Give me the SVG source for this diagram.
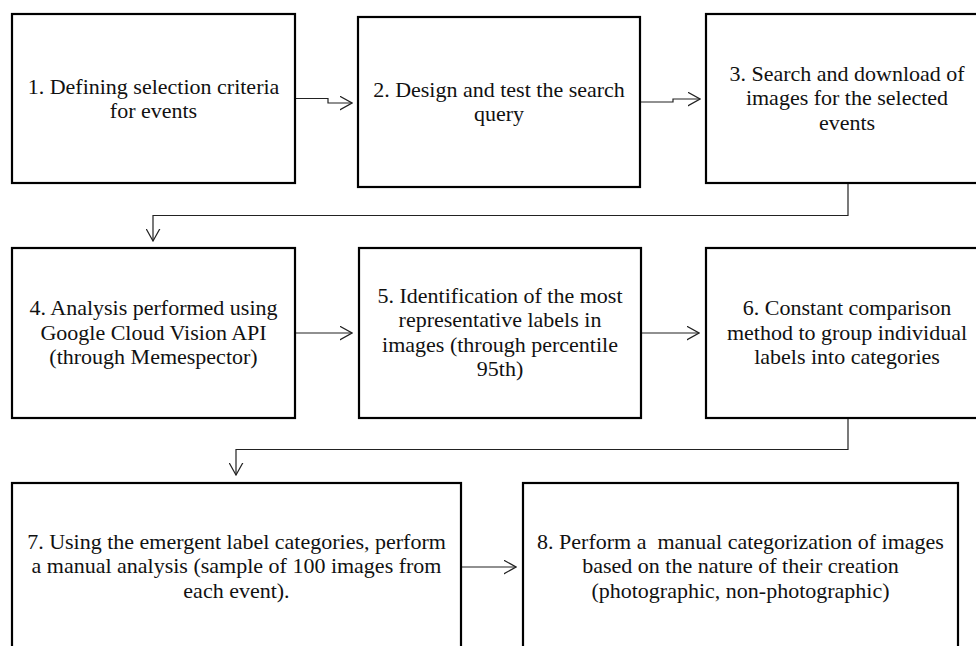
<svg xmlns="http://www.w3.org/2000/svg" width="976" height="646" viewBox="0 0 976 646">
<style>
.box{fill:#fff;stroke:#000;stroke-width:2.2}
.lbl{font-family:"Liberation Serif","Times New Roman",serif;font-size:22px;fill:#111;text-anchor:middle;white-space:pre}
.con{fill:none;stroke:#222;stroke-width:1.2}
</style>
<defs>
<marker id="arr" viewBox="0 0 13 15" refX="12.5" refY="7.5" markerWidth="13" markerHeight="15" markerUnits="userSpaceOnUse" orient="auto">
<path d="M0,0.5 L12.5,7.5 L0,14.5" fill="none" stroke="#222" stroke-width="1.2"/>
</marker>
</defs>
<rect width="976" height="646" fill="#fff"/>
<g id="connectors">
<path class="con" d="M295,98.5 H328 V103 H352" marker-end="url(#arr)"/>
<path class="con" d="M640,102 H673 V99 H700" marker-end="url(#arr)"/>
<path class="con" d="M848,183 V215.5 H153 V241" marker-end="url(#arr)"/>
<path class="con" d="M295,333 H352" marker-end="url(#arr)"/>
<path class="con" d="M641,333 H699" marker-end="url(#arr)"/>
<path class="con" d="M848,418 V449.5 H236 V475" marker-end="url(#arr)"/>
<path class="con" d="M461,567 H516" marker-end="url(#arr)"/>
</g>
<g id="n1">
<rect class="box" x="12" y="14" width="283" height="169"/>
<text class="lbl"><tspan x="153.5" y="93.5">1. Defining selection criteria</tspan><tspan x="153.5" y="118">for events</tspan></text>
</g>
<g id="n2">
<rect class="box" x="358" y="17" width="282" height="170"/>
<text class="lbl"><tspan x="499" y="96.5">2. Design and test the search</tspan><tspan x="499" y="121">query</tspan></text>
</g>
<g id="n3">
<rect class="box" x="706" y="14" width="282" height="169"/>
<text class="lbl"><tspan x="847" y="80.5">3. Search and download of</tspan><tspan x="847" y="105">images for the selected</tspan><tspan x="847" y="129.5">events</tspan></text>
</g>
<g id="n4">
<rect class="box" x="12" y="248" width="283" height="170"/>
<text class="lbl"><tspan x="153.5" y="315">4. Analysis performed using</tspan><tspan x="153.5" y="339.5">Google Cloud Vision API</tspan><tspan x="153.5" y="364">(through Memespector)</tspan></text>
</g>
<g id="n5">
<rect class="box" x="359" y="248" width="282" height="170"/>
<text class="lbl"><tspan x="500" y="302.75">5. Identification of the most</tspan><tspan x="500" y="327.25">representative labels in</tspan><tspan x="500" y="351.75">images (through percentile</tspan><tspan x="500" y="376.25">95th)</tspan></text>
</g>
<g id="n6">
<rect class="box" x="706" y="248" width="282" height="170"/>
<text class="lbl"><tspan x="847" y="315">6. Constant comparison</tspan><tspan x="847" y="339.5">method to group individual</tspan><tspan x="847" y="364">labels into categories</tspan></text>
</g>
<g id="n7">
<rect class="box" x="12" y="483" width="449" height="170"/>
<text class="lbl"><tspan x="236.5" y="548.5">7. Using the emergent label categories, perform</tspan><tspan x="236.5" y="573">a manual analysis (sample of 100 images from</tspan><tspan x="236.5" y="597.5">each event).</tspan></text>
</g>
<g id="n8">
<rect class="box" x="523" y="483" width="435" height="170"/>
<text class="lbl"><tspan x="740.5" y="548.5">8. Perform a  manual categorization of images</tspan><tspan x="740.5" y="573">based on the nature of their creation</tspan><tspan x="740.5" y="597.5">(photographic, non-photographic)</tspan></text>
</g>
</svg>
